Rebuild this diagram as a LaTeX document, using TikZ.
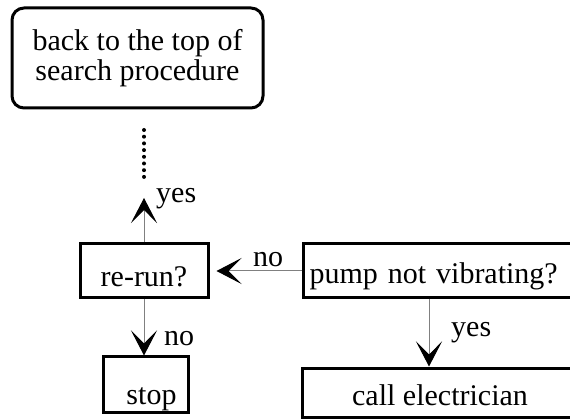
\documentclass[tikz,border=0pt]{standalone}
\usepackage{fontspec}
\setmainfont{Liberation Serif}
\usetikzlibrary{arrows.meta}
\begin{document}
\begin{tikzpicture}[x=1pt,y=-1pt,
  every node/.style={font=\fontsize{30pt}{30pt}\selectfont},
  box/.style={draw=black,line width=3pt,inner sep=0pt,align=center},
  conn/.style={draw=gray,line width=1pt,
    -{Stealth[length=25pt,width=26pt,inset=13pt,black]}},
  lbl/.style={anchor=base west,inner sep=0pt}]
  % page area (boxes on the right run past the edge)
  \clip (0,0) rectangle (570,419);

  % boxes
  \node[box,rounded corners=12pt,minimum width=251pt,minimum height=100pt]
    (top) at (137.5,58) {back to the top of\\search procedure};
  \node[box,minimum width=128pt,minimum height=54pt,text height=32pt,text depth=0pt]
    (rerun) at (144,271) {re-run?};
  \node[box,minimum width=85pt,minimum height=55pt,text height=40pt,text depth=0pt]
    (stop) at (145.5,384.5) {\hspace*{12pt}stop};
  \node[box,anchor=west,minimum height=54pt,text width=310pt,inner xsep=6pt,
        align=left,text height=26pt,text depth=0pt]
    (pump) at (302,271) {pump not vibrating?};
  \node[box,minimum width=276pt,minimum height=49pt,text height=25pt,text depth=0pt]
    (call) at (440,392.5) {call electrician};

  % continuation back up towards the top box
  \coordinate (yestip) at (144,198);
  \coordinate (dotstart) at (144,130);
  \foreach \i in {0,...,7}
    \fill[black] (dotstart) ++(0,\i*6.7) circle (2pt);

  % connectors
  \draw[conn,shorten >=7pt] (pump.west) -- (rerun.east);
  \draw[conn] (rerun.north) -- (yestip);
  \draw[conn] (rerun.south) -- (rerun.south |- stop.north);
  \path (pump.south west) ++(127,0) coordinate (pdrop);
  \draw[conn] (pdrop) -- (pdrop |- call.north);

  % branch labels
  \node[lbl] (lno1) at (253,267) {no};
  \node[lbl] (lyes1) at (156,203) {yes};
  \node[lbl] (lno2) at (164,345) {no};
  \node[lbl] (lyes2) at (451,337) {yes};
\end{tikzpicture}
\end{document}
